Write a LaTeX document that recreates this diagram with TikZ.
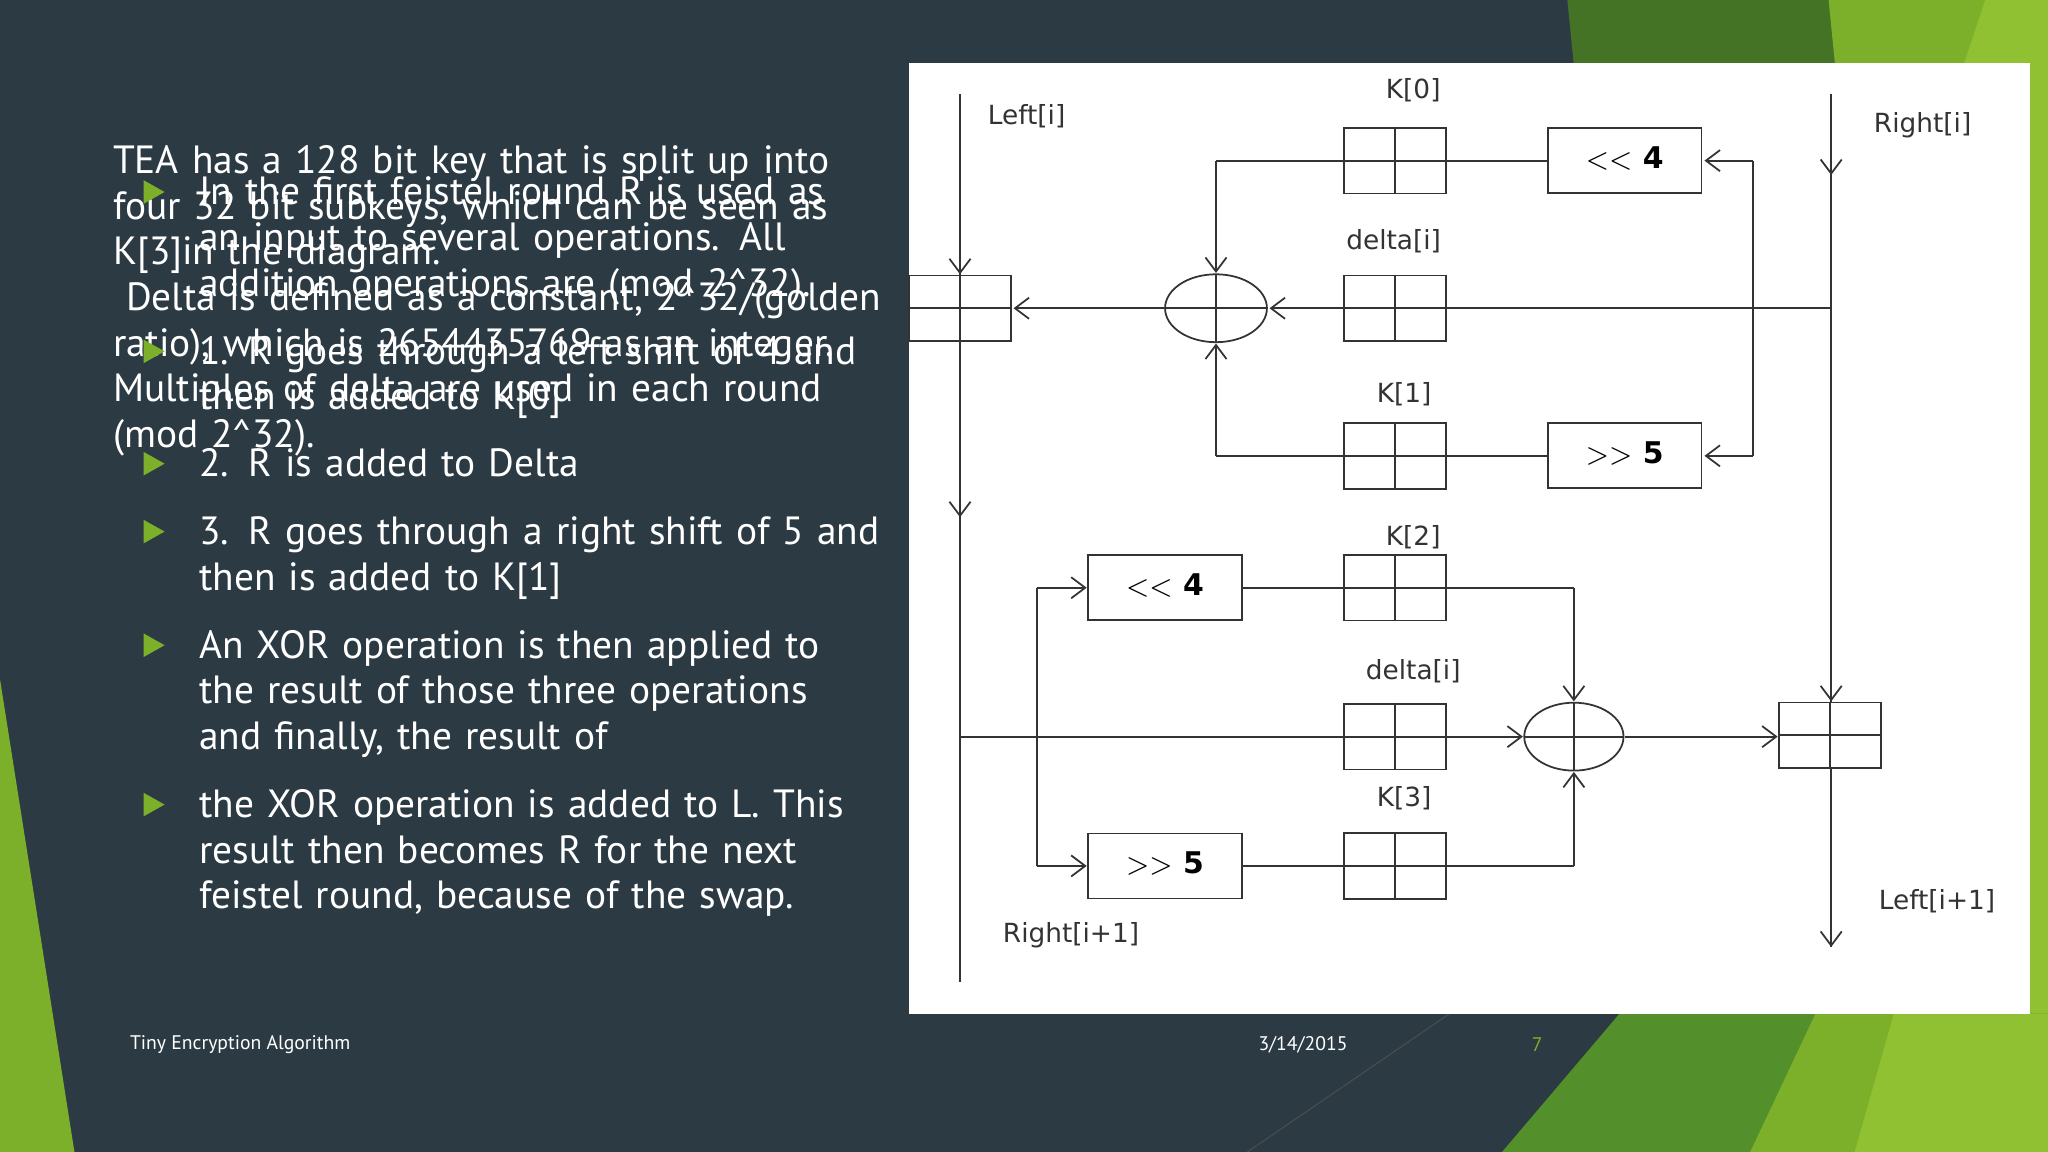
\documentclass[tikz,border=0pt]{standalone}
\usepackage{fontspec}
\setmainfont{DejaVu Sans}
\newfontfamily\slide{PT Sans}
\usetikzlibrary{arrows.meta}
\definecolor{bg}{HTML}{2C3B43}
\definecolor{dg}{HTML}{447326}
\definecolor{mg}{HTML}{538F2A}
\definecolor{lg}{HTML}{7DB02A}
\definecolor{llg}{HTML}{90C132}
\definecolor{ln}{HTML}{333333}
\newcommand\myjl[1]{\makebox[189pt][s]{#1}}
\begin{document}
\begin{tikzpicture}[x=0.013061cm,y=-0.013061cm,
  ln/.style={draw=ln,line width=0.5pt},
  ar/.style={ln,-{Straight Barb[length=4pt,width=6pt]}},
  box/.style={ln,fill=white},
  lab/.style={text=ln,font=\fontsize{7.5}{9}\selectfont,inner sep=0pt},
  op/.style={box,minimum width=43.7pt,minimum height=18.5pt,inner sep=0pt,font=\fontsize{8.5}{9}\selectfont\bfseries\rmfamily},
  txt/.style={text=white,font=\slide\fontsize{11.2}{12.97}\selectfont,inner sep=0pt,anchor=north west,text width=189pt,align=left},
  bul/.style={fill=lg,draw=none}]
\useasboundingbox (0,0) rectangle (1568,882);
\fill[bg] (0,0) rectangle (1568,882);
% greens
\fill[dg] (1200,0) -- (1568,0) -- (1568,300) -- (1230,300) -- cycle;
\fill[lg] (1400,0) -- (1568,0) -- (1568,300) -- (1430,300) -- cycle;
\fill[llg] (1520,0) -- (1568,0) -- (1568,882) -- (1500,882) -- (1500,60) -- cycle;
\fill[mg] (1240,776) -- (1568,776) -- (1568,882) -- (1150,882) -- cycle;
\fill[lg] (1390,776) -- (1568,776) -- (1568,882) -- (1340,882) -- cycle;
\fill[llg] (1450,776) -- (1568,776) -- (1568,882) -- (1420,882) -- cycle;
\fill[lg] (0,520) -- (57,882) -- (0,882) -- cycle;
\draw[black!70,line width=0.3pt] (1110,776) -- (955,882);
% panel
\fill[white] (696,48) rectangle (1554,776);
% left text
\node[txt,text width=250pt] at (86,111) {TEA has a 128 bit key that is split up into\\four 32 bit subkeys, which can be seen as\\K[3]in the diagram.\\\ Delta is defined as a constant, 2\^{}32/(golden\\ratio), which is 2654435769 as an integer.\\Multiples of delta are used in each round\\(mod 2\^{}32).};
\foreach \y in {147,269,355,407,494,616}{\fill[bul] (110,\y-9) -- (126,\y) -- (110,\y+9) -- cycle;}
\node[txt] at (152,135) {\myjl{In the first feistel round R is used as}\\\myjl{an input to several operations. All}\\addition operations are (mod 2\^{}32).};
\node[txt] at (152,257) {\myjl{1. R goes through a left shift of 4 and}\\then is added to K[0]};
\node[txt] at (152,343) {2. R is added to Delta};
\node[txt] at (152,395) {\myjl{3. R goes through a right shift of 5 and}\\then is added to K[1]};
\node[txt] at (152,482) {\myjl{An XOR operation is then applied to}\\\myjl{the result of those three operations}\\and finally, the result of};
\node[txt] at (152,604) {\myjl{the XOR operation is added to L. This}\\\myjl{result then becomes R for the next}\\feistel round, because of the swap.};
% footer
\node[text=white,font=\slide\fontsize{5.6}{6}\selectfont,anchor=west,inner sep=0pt] (f1) at (99,800) {Tiny Encryption Algorithm};
\node[text=white,font=\slide\fontsize{5.6}{6}\selectfont,anchor=west,inner sep=0pt] (f2) at (963,800) {3/14/2015};
\node[text=lg,font=\slide\fontsize{5.6}{6}\selectfont,inner sep=0pt] (f3) at (1177,800) {7};
% diagram coordinates
\coordinate (lt) at (735,72); \coordinate (lb) at (735,752);
\coordinate (rt) at (1402,72); \coordinate (rb) at (1402,725);
\coordinate (j1) at (931,123); \coordinate (j2) at (931,349);
\coordinate (s1) at (1342,123); \coordinate (s2) at (1342,349); \coordinate (s0) at (1342,236);
\coordinate (r236) at (1402,236);
\coordinate (m1) at (794,450); \coordinate (m2) at (794,663); \coordinate (m0) at (794,564);
\coordinate (l564) at (735,564);
\coordinate (c1) at (1205,450); \coordinate (c2) at (1205,663);
% labels
\node[lab] (tl) at (786,89) {Left[i]};
\node[lab] (tr) at (1472,96) {Right[i]};
\node[lab] (bl) at (820,716) {Right[i+1]};
\node[lab] (br) at (1483,690) {Left[i+1]};
\node[lab] (k0) at (1082,69) {K[0]};
\node[lab] (d1) at (1067,185) {delta[i]};
\node[lab] (k1) at (1075,302) {K[1]};
\node[lab] (k2) at (1082,411) {K[2]};
\node[lab] (d2) at (1082,514) {delta[i]};
\node[lab] (k3) at (1075,611) {K[3]};
% lines
\draw[ln] (lt) -- (lb);
\draw[ar] (lt) -- (735,210);
\draw[ar] (735,262) -- (735,396);
\draw[ln] (rt) -- (rb);
\draw[ar] (rt) -- (1402,134);
\draw[ar] (1402,300) -- (1402,537);
\draw[ar] (1402,588) -- (rb);
% circles
\draw[ln,fill=white] (931,236) ellipse (39 and 26);
\draw[ln] (892,236) -- (970,236) (931,210) -- (931,262);
\draw[ln,fill=white] (1205,564) ellipse (38 and 26);
\draw[ln] (1167,564) -- (1243,564) (1205,538) -- (1205,590);
% top section
\draw[ar] (r236) -- (972,236);
\draw[ar] (892,236) -- (776,236);
\draw[ln] (1185,123) -- (j1); \draw[ar] (j1) -- (931,209);
\draw[ln] (1185,349) -- (j2); \draw[ar] (j2) -- (931,263);
\draw[ln] (s0) -- (s1); \draw[ar] (s1) -- (1305,123);
\draw[ln] (s0) -- (s2); \draw[ar] (s2) -- (1305,349);
% bottom section
\draw[ar] (l564) -- (1166,564);
\draw[ar] (1244,564) -- (1361,564);
\draw[ln] (m1) -- (m2);
\draw[ar] (m1) -- (832,450);
\draw[ar] (m2) -- (832,663);
\draw[ln] (951,450) -- (c1); \draw[ar] (c1) -- (1205,537);
\draw[ln] (951,663) -- (c2); \draw[ar] (c2) -- (1205,591);
% boxes
\foreach \n/\x/\y in {bk0/1068/123,bd1/1068/236,bk1/1068/349,bk2/1068/450,bd2/1068/564,bk3/1068/663}{
  \node[box,minimum width=28.9pt,minimum height=18.7pt,inner sep=0pt] (\n) at (\x,\y) {};
  \draw[ln] (\n.north) -- (\n.south) (\n.west) -- (\n.east);}
\node[box,minimum width=28.9pt,minimum height=18.7pt,inner sep=0pt] (lbx) at (735,236) {};
\draw[ln] (lbx.north) -- (lbx.south) (lbx.west) -- (lbx.east);
\node[box,minimum width=28.9pt,minimum height=18.7pt,inner sep=0pt] (rbx) at (1401,563) {};
\draw[ln] (rbx.north) -- (rbx.south) (rbx.west) -- (rbx.east);
\node[op] (o1) at (1244,123) {\raisebox{2pt}{$<<$ 4}};
\node[op] (o2) at (1244,349) {\raisebox{2pt}{$>>$ 5}};
\node[op] (o3) at (892,450) {\raisebox{2pt}{$<<$ 4}};
\node[op] (o4) at (892,663) {\raisebox{2pt}{$>>$ 5}};
\end{tikzpicture}
\end{document}
